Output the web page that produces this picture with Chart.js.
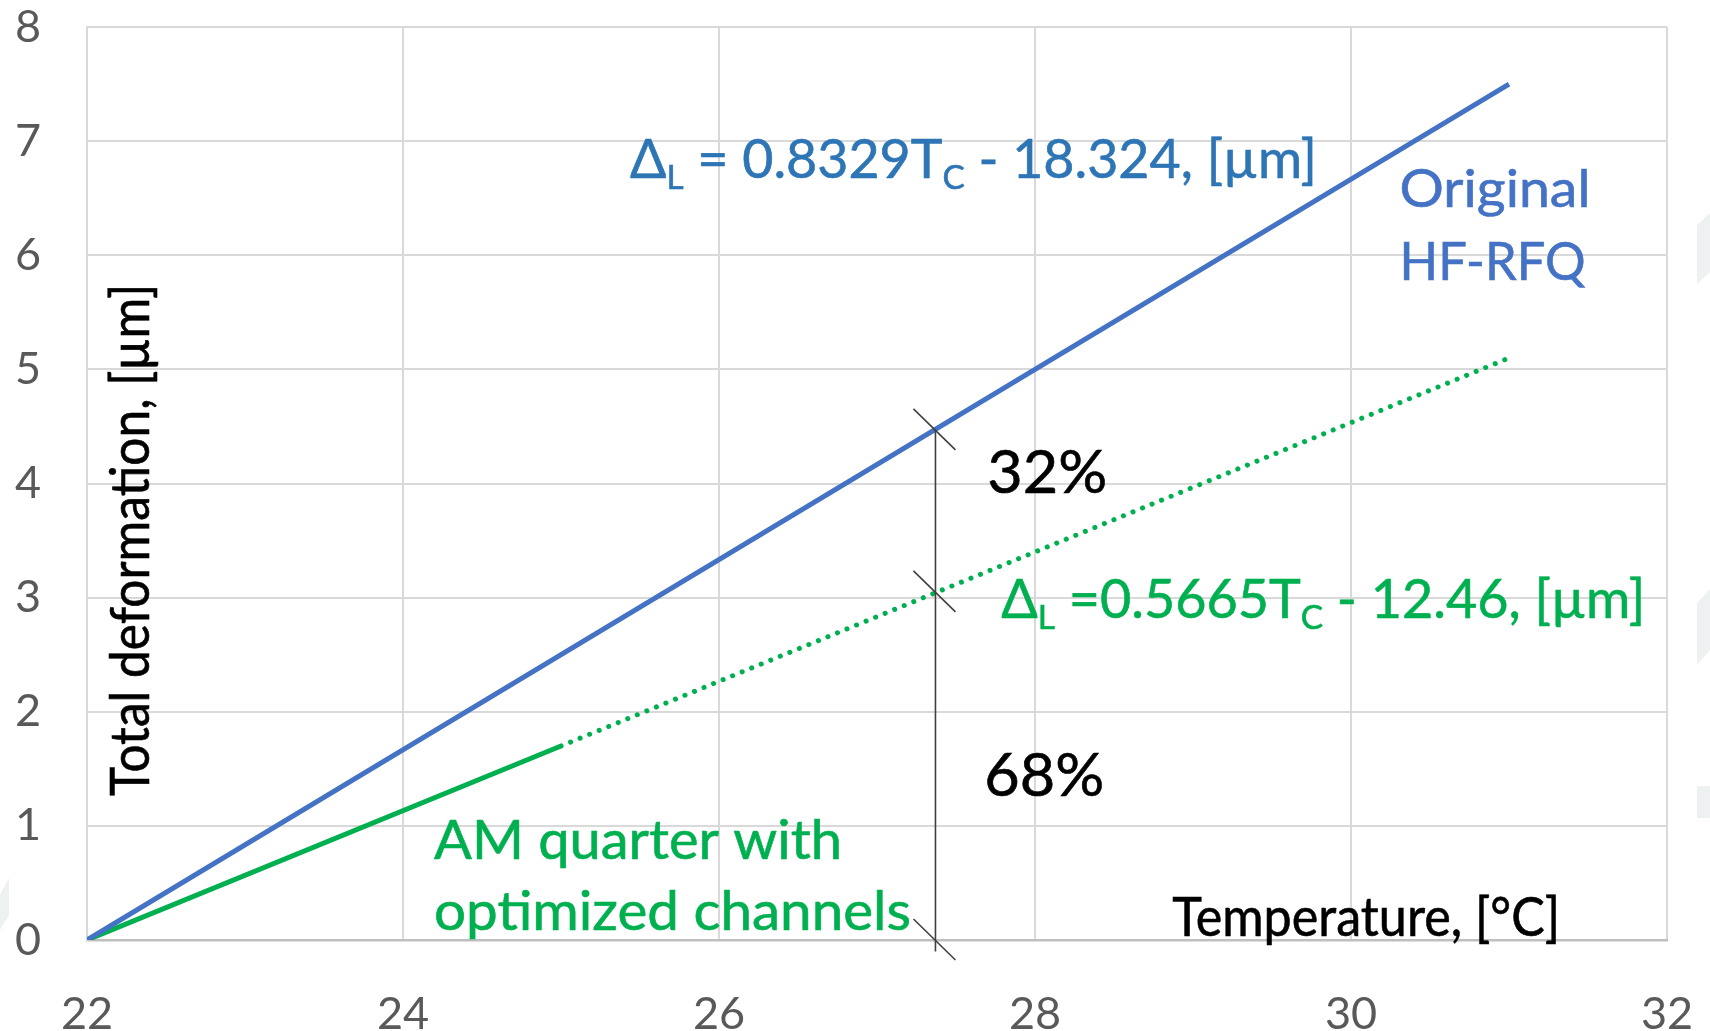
<!DOCTYPE html>
<html>
<head>
<meta charset="utf-8">
<script src="https://cdn.jsdelivr.net/npm/chart.js@4.4.1/dist/chart.umd.min.js"></script>
<style>
  html, body { margin: 0; padding: 0; background: #ffffff; }
  canvas { display: block; }
</style>
</head>
<body>
<canvas id="chart" width="1710" height="1031"></canvas>
<script>
// Axis ticks
const tempTicks = [22, 24, 26, 28, 30, 32];
const deformTicks = [0, 1, 2, 3, 4, 5, 6, 7, 8];

// Original HF-RFQ: total deformation vs coolant temperature
const originalT = [22, 31];
const originalD = [0.00, 7.50];

// AM quarter with optimized channels: simulated range (solid) and extension (dotted)
const amT = [22, 25];
const amD = [0.00, 1.70];
const amExtT = [25, 31];
const amExtD = [1.70, 5.10];

// Comparison cut at one coolant temperature: original, AM quarter, zero
const compareT = [27.37];
const compareD = [4.47, 3.05, 0];
const shareLabels = ['32%', '68%'];

const BLUE = '#4472c4';
const BLUE_TEXT = '#2e75b6';
const GREEN = '#00b050';
const FONT = 'Lato';

const pts = (xs, ys) => xs.map((x, i) => ({ x, y: ys[i] }));

// Draws a run of text segments (with optional subscripts), squeezed to a target width
function drawRich(ctx, segs, x, y, size, color, targetW, rotate) {
  const subSize = size * 0.62;
  let total = 0;
  const widths = segs.map(s => {
    ctx.font = `${s.sub ? subSize : size}px ${FONT}`;
    const w = ctx.measureText(s.t).width;
    total += w;
    return w;
  });
  const sx = targetW ? targetW / total : 1;
  ctx.save();
  ctx.translate(x, y);
  if (rotate) ctx.rotate(rotate);
  ctx.scale(sx, 1);
  ctx.fillStyle = color;
  ctx.strokeStyle = color;
  ctx.lineWidth = 0.6;
  ctx.textBaseline = 'alphabetic';
  ctx.textAlign = 'left';
  let cx = 0;
  segs.forEach((s, i) => {
    ctx.font = `${s.sub ? subSize : size}px ${FONT}`;
    const dy = s.sub ? size * 0.2 : 0;
    ctx.fillText(s.t, cx, dy);
    ctx.strokeText(s.t, cx, dy);
    cx += widths[i];
  });
  ctx.restore();
}

// faint background shapes along the page edges
const backdrop = {
  id: 'backdrop',
  beforeDraw(chart) {
    const { ctx } = chart;
    ctx.save();
    ctx.fillStyle = '#eef1f1';
    const shapes = [
      [[1697, 225], [1710, 213], [1710, 272], [1697, 284]],
      [[1697, 603], [1710, 589], [1710, 650], [1697, 665]],
      [[1697, 786], [1710, 786], [1710, 818], [1697, 818]],
      [[0, 895], [9, 878], [9, 915], [0, 930]]
    ];
    shapes.forEach(p => {
      ctx.beginPath();
      p.forEach(([px, py], i) => (i ? ctx.lineTo(px, py) : ctx.moveTo(px, py)));
      ctx.closePath();
      ctx.fill();
    });
    ctx.restore();
  }
};

const annotations = {
  id: 'annotations',
  afterDatasetsDraw(chart) {
    const { ctx, scales: { x, y } } = chart;
    const X = v => x.getPixelForValue(v);
    const Y = v => y.getPixelForValue(v);

    // measurement line with slash marks
    const cx = X(compareT[0]);
    ctx.save();
    ctx.strokeStyle = '#404040';
    ctx.lineWidth = 1.6;
    ctx.beginPath();
    ctx.moveTo(cx, Y(compareD[0]));
    ctx.lineTo(cx, Y(-0.1));
    ctx.stroke();
    compareD.forEach(v => {
      const cy = Y(v);
      ctx.beginPath();
      ctx.moveTo(cx - 22, cy - 21);
      ctx.lineTo(cx + 20, cy + 20);
      ctx.stroke();
    });
    ctx.restore();

    // equations
    drawRich(ctx, [
      { t: '\u0394' }, { t: 'L', sub: true }, { t: ' = 0.8329T' }, { t: 'C', sub: true },
      { t: ' - 18.324, [\u00b5m]' }
    ], X(25.437), Y(6.679), 54, BLUE_TEXT, 687);
    drawRich(ctx, [
      { t: '\u0394' }, { t: 'L', sub: true }, { t: ' =0.5665T' }, { t: 'C', sub: true },
      { t: ' - 12.46, [\u00b5m]' }
    ], X(27.786), Y(2.823), 54, GREEN, 644);

    // series names
    drawRich(ctx, [{ t: 'Original' }], X(30.307), Y(6.425), 53, BLUE, 191);
    drawRich(ctx, [{ t: 'HF-RFQ' }], X(30.307), Y(5.786), 53, BLUE, 186);
    drawRich(ctx, [{ t: 'AM quarter with' }], X(24.196), Y(0.711), 54, GREEN, 408);
    drawRich(ctx, [{ t: 'optimized channels' }], X(24.196), Y(0.089), 54, GREEN, 477);

    // shares
    drawRich(ctx, [{ t: shareLabels[0] }], X(27.698), Y(3.919), 60, '#000000', 120);
    drawRich(ctx, [{ t: shareLabels[1] }], X(27.679), Y(1.263), 60, '#000000', 120);

    // axis titles
    drawRich(ctx, [{ t: 'Temperature, [\u00b0C]' }], X(28.868), Y(0.036), 54, '#000000', 388);
    const ty = Y(3.506);
    drawRich(ctx, [{ t: 'Total deformation, [\u00b5m]' }], X(22.392), ty + 256, 54, '#000000', 512, -Math.PI / 2);
  }
};

new Chart(document.getElementById('chart'), {
  type: 'line',
  data: {
    datasets: [
      {
        label: 'Original HF-RFQ',
        data: pts(originalT, originalD),
        borderColor: BLUE, borderWidth: 5, pointRadius: 0, tension: 0, order: 1
      },
      {
        label: 'AM quarter with optimized channels',
        data: pts(amT, amD),
        borderColor: GREEN, borderWidth: 5, pointRadius: 0, tension: 0, order: 2
      },
      {
        label: 'AM quarter (extension)',
        data: pts(amExtT, amExtD),
        borderColor: GREEN, borderWidth: 5, pointRadius: 0, tension: 0,
        borderDash: [0.1, 10.2], borderCapStyle: 'round', order: 3
      }
    ]
  },
  options: {
    responsive: false,
    animation: false,
    devicePixelRatio: 1,
    layout: { padding: { top: 27, right: 43, left: 15, bottom: 0 } },
    plugins: { legend: { display: false }, tooltip: { enabled: false } },
    scales: {
      x: {
        type: 'linear', min: 22, max: 32,
        afterBuildTicks: s => { s.ticks = tempTicks.map(v => ({ value: v })); },
        grid: { color: '#d9d9d9', lineWidth: 2, drawTicks: true, tickLength: 47, tickColor: 'rgba(0,0,0,0)' },
        border: { color: '#bfbfbf', width: 2.5 },
        ticks: { font: { family: FONT, size: 45 }, color: '#595959', padding: 0, maxRotation: 0 },
        afterFit: s => { s.height = 91; }
      },
      y: {
        type: 'linear', min: 0, max: 8,
        afterBuildTicks: s => { s.ticks = deformTicks.map(v => ({ value: v })); },
        grid: { color: '#d9d9d9', lineWidth: 2, drawTicks: false },
        border: { color: '#d9d9d9', width: 2 },
        ticks: { font: { family: FONT, size: 45 }, color: '#595959', padding: 0, crossAlign: 'far' },
        afterFit: s => { s.width = 72; }
      }
    }
  },
  plugins: [backdrop, annotations]
});
</script>
</body>
</html>
